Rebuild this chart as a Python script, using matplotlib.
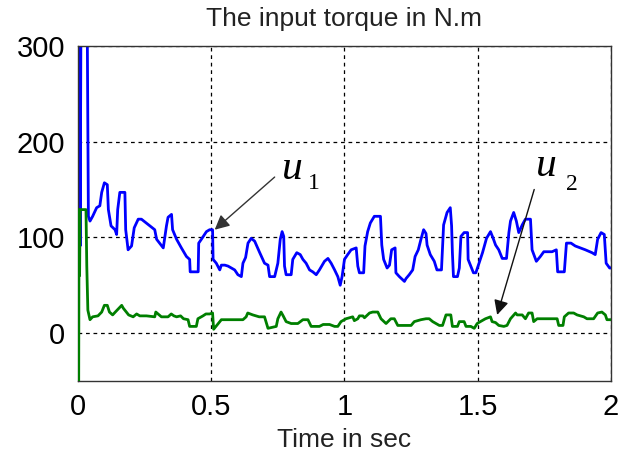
import matplotlib
matplotlib.use("Agg")
import matplotlib.pyplot as plt

# u1 (blue)
t_u1 = [0, 0.004, 0.008, 0.012, 0.033, 0.039, 0.045, 0.055, 0.070, 0.082,
        0.089, 0.099, 0.110, 0.114, 0.124, 0.139, 0.145, 0.149, 0.157, 0.176,
        0.179, 0.188, 0.201, 0.211, 0.226, 0.238, 0.288, 0.295, 0.320, 0.332,
        0.338, 0.351, 0.355, 0.370, 0.388, 0.407, 0.419, 0.421, 0.451, 0.453,
        0.463, 0.482, 0.494, 0.505, 0.507, 0.519, 0.532, 0.538, 0.551, 0.563,
        0.588, 0.600, 0.613, 0.619, 0.629, 0.638, 0.650, 0.663, 0.682, 0.700,
        0.713, 0.719, 0.738, 0.750, 0.759, 0.766, 0.772, 0.775, 0.781, 0.800,
        0.806, 0.821, 0.834, 0.844, 0.856, 0.869, 0.881, 0.894, 0.906, 0.925,
        0.938, 0.950, 0.963, 0.975, 0.984, 0.991, 1.000, 1.012, 1.025, 1.044,
        1.050, 1.056, 1.072, 1.077, 1.087, 1.097, 1.112, 1.135, 1.140, 1.147,
        1.160, 1.169, 1.177, 1.190, 1.193, 1.206, 1.225, 1.231, 1.243, 1.256,
        1.265, 1.277, 1.287, 1.297, 1.306, 1.310, 1.322, 1.337, 1.347, 1.364,
        1.372, 1.385, 1.397, 1.402, 1.405, 1.409, 1.424, 1.431, 1.437, 1.449,
        1.462, 1.464, 1.474, 1.484, 1.493, 1.506, 1.518, 1.533, 1.548, 1.558,
        1.567, 1.579, 1.592, 1.608, 1.617, 1.623, 1.635, 1.645, 1.654, 1.667,
        1.679, 1.698, 1.704, 1.720, 1.735, 1.748, 1.779, 1.795, 1.800, 1.825,
        1.833, 1.850, 1.866, 1.885, 1.904, 1.929, 1.941, 1.950, 1.963, 1.975,
        1.982, 1.995, 2.000]
u1 = [0, 400, 91, 400, 400, 122, 117, 122, 131, 133,
      147, 157, 155, 129, 112, 108, 103, 129, 147, 147,
      108, 87, 91, 110, 119, 119, 108, 98, 89, 112,
      121, 124, 108, 98, 89, 80, 77, 64, 64, 94,
      98, 106, 108, 108, 77, 73, 66, 71, 71, 70,
      66, 61, 59, 73, 79, 94, 99, 96, 84, 73,
      71, 59, 59, 73, 98, 106, 101, 70, 61, 61,
      77, 84, 82, 77, 73, 66, 64, 61, 66, 75,
      78, 73, 66, 59, 50, 59, 77, 82, 87, 89,
      70, 63, 63, 91, 106, 115, 122, 122, 92, 77,
      68, 71, 87, 89, 63, 59, 54, 57, 61, 66,
      80, 87, 98, 108, 104, 92, 82, 75, 66, 66,
      113, 126, 131, 112, 84, 59, 59, 68, 101, 105,
      105, 77, 70, 63, 63, 74, 84, 99, 106, 99,
      92, 87, 78, 78, 105, 117, 126, 117, 105, 113,
      119, 119, 87, 75, 80, 85, 85, 87, 64, 64,
      94, 94, 91, 89, 87, 84, 82, 98, 105, 103,
      73, 68, 68]

# u2 (green)
t_u2 = [0, 0.004, 0.006, 0.008, 0.030, 0.033, 0.037, 0.045, 0.055, 0.075,
        0.089, 0.099, 0.110, 0.118, 0.130, 0.140, 0.164, 0.170, 0.190, 0.207,
        0.220, 0.232, 0.257, 0.288, 0.292, 0.313, 0.338, 0.350, 0.360, 0.370,
        0.385, 0.396, 0.413, 0.419, 0.444, 0.450, 0.469, 0.480, 0.494, 0.505,
        0.509, 0.538, 0.569, 0.619, 0.631, 0.637, 0.656, 0.680, 0.700, 0.713,
        0.744, 0.750, 0.762, 0.770, 0.781, 0.800, 0.825, 0.844, 0.863, 0.875,
        0.906, 0.920, 0.944, 0.963, 0.975, 0.987, 1.006, 1.031, 1.037, 1.050,
        1.056, 1.069, 1.075, 1.094, 1.106, 1.125, 1.137, 1.156, 1.174, 1.187,
        1.200, 1.250, 1.262, 1.287, 1.306, 1.318, 1.331, 1.356, 1.368, 1.381,
        1.399, 1.405, 1.424, 1.431, 1.449, 1.456, 1.474, 1.487, 1.498, 1.510,
        1.529, 1.548, 1.554, 1.567, 1.579, 1.598, 1.610, 1.623, 1.642, 1.648,
        1.667, 1.679, 1.691, 1.704, 1.710, 1.723, 1.798, 1.804, 1.820, 1.825,
        1.841, 1.860, 1.873, 1.898, 1.910, 1.935, 1.950, 1.966, 1.979, 1.985,
        2.000]
u2 = [-400, 129, 60, 129, 129, 70, 24, 14, 17, 18,
      22, 29, 29, 22, 19, 22, 29, 26, 19, 17,
      20, 18, 18, 17, 22, 17, 17, 20, 18, 17,
      18, 15, 14, 7, 7, 15, 18, 20, 20, 21,
      4, 14, 14, 14, 17, 21, 19, 17, 17, 5,
      7, 15, 22, 18, 12, 10, 10, 14, 14, 7,
      7, 9, 9, 7, 7, 12, 15, 17, 13, 15,
      18, 18, 16, 21, 22, 22, 15, 10, 15, 15,
      8, 8, 12, 14, 15, 15, 12, 8, 8, 19,
      19, 7, 7, 12, 12, 7, 7, 5, 10, 12,
      15, 17, 12, 11, 8, 7, 8, 15, 21, 19,
      19, 15, 21, 21, 12, 15, 15, 8, 8, 17,
      21, 21, 19, 17, 15, 15, 21, 22, 19, 14,
      14]

x_ticks = [0, 0.5, 1, 1.5, 2]
x_tick_labels = ["0", "0.5", "1", "1.5", "2"]
y_ticks = [0, 100, 200, 300]

plt.rcParams['font.family'] = ['Liberation Sans', 'DejaVu Sans']

fig = plt.figure(figsize=(6.19, 4.59), dpi=100)
ax = fig.add_axes([0.126, 0.170, 0.861, 0.730])

ax.plot(t_u2, u2, color="#007f00", linewidth=2.0, zorder=3)
ax.plot(t_u1, u1, color="#0000ff", linewidth=2.0, zorder=2)

ax.set_xlim(0, 2)
ax.set_ylim(-50, 300)
ax.set_xticks(x_ticks)
ax.set_xticklabels(x_tick_labels)
ax.set_yticks(y_ticks)
ax.grid(True, color="black", linestyle=(0, (3, 3)), linewidth=0.9)
ax.tick_params(direction="in", length=0, labelsize=21, pad=9)
for s in ax.spines.values():
    s.set_color("#333333")
    s.set_linewidth(1.0)

ax.set_title("The input torque in N.m", fontsize=19, color="#222222", pad=14)
ax.set_xlabel("Time in sec", fontsize=19, color="#222222", labelpad=5)

# annotations
ax.annotate("", xy=(0.513, 108), xytext=(0.738, 163),
            arrowprops=dict(arrowstyle="-|>", color="#333333", lw=1.0,
                            mutation_scale=22, shrinkA=0, shrinkB=0))
ax.annotate("", xy=(1.573, 19), xytext=(1.712, 150),
            arrowprops=dict(arrowstyle="-|>", color="#111111", lw=1.0,
                            mutation_scale=22, shrinkA=0, shrinkB=0))
ax.text(0.764, 161, "u", fontsize=30, family="Liberation Serif", style="italic", va="baseline")
ax.text(0.861, 151, "1", fontsize=17, family="Liberation Serif", va="baseline")
ax.text(1.719, 164, "u", fontsize=30, family="Liberation Serif", style="italic", va="baseline")
ax.text(1.831, 149, "2", fontsize=17, family="Liberation Serif", va="baseline")

fig.savefig("out.png", dpi=100)
